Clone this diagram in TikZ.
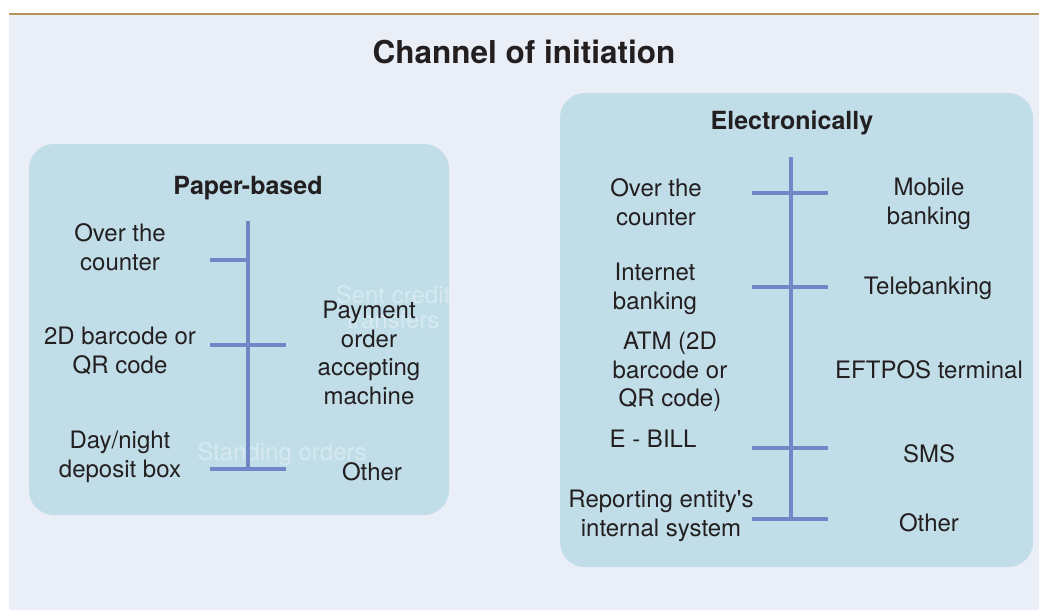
\documentclass[tikz,border=0pt]{standalone}
\usepackage{fontspec}
\setmainfont{TeX Gyre Heros}
\usepackage{tikz}
\usetikzlibrary{positioning}
\definecolor{chPanel}{HTML}{E9EEF7}
\definecolor{chBox}{HTML}{C0DDE8}
\definecolor{chSpine}{HTML}{7088C8}
\definecolor{chRule}{HTML}{B8935A}
\definecolor{chInk}{HTML}{231F20}

\begin{document}
\begin{tikzpicture}[
  x=1pt,y=-1pt,
  grp/.style={fill=chBox,rounded corners=25pt},
  hd/.style={font=\fontsize{25}{28}\selectfont\bfseries,text=chInk,inner sep=0pt},
  lbl/.style={font=\fontsize{24}{28.5}\selectfont,text=chInk,align=center,inner sep=0pt},
  ghost/.style={font=\fontsize{24}{25}\selectfont,text=white,text opacity=0.38,align=center,inner sep=0pt},
  tk/.style={draw=chSpine,line width=3.2pt}
]
\useasboundingbox (0,0) rectangle (1039,610);
\fill[chPanel] (9,14) rectangle (1039,610);
\draw[chRule,line width=2pt] (9,14) -- (1039,14);

\node[font=\fontsize{31.5}{34}\selectfont\bfseries,text=chInk,inner sep=0pt] (title) at (524,52) {Channel of initiation};

% paper-based group
\fill[grp] (29,144) rectangle (449,515);
\node[hd] (phd) at (248,188) {Paper-based};

\coordinate (ptop) at (248,221);
\coordinate (pbot) at (248,469);
\coordinate (p1l) at (210,260);
\coordinate (p1r) at (248,260);
\coordinate (p2l) at (210,345);
\coordinate (p2r) at (286,345);
\coordinate (p3l) at (210,469);
\coordinate (p3r) at (286,469);

\begin{scope}
  \clip[rounded corners=25pt] (29,144) rectangle (449,515);
  \node[ghost] (pgh1) at (393,307) {Sent credit\\transfers};
  \node[ghost] (pgh2) at (282,454) {Standing orders};
\end{scope}

\draw[tk] (ptop) -- (pbot);
\draw[tk] (p1l) -- (p1r);
\draw[tk] (p2l) -- (p2r);
\draw[tk] (p3l) -- (p3r);

\node[lbl] (pcnt) at (120,247) {Over the\\counter};
\node[lbl] (pqr)  at (120,351) {2D barcode or\\QR code};
\node[lbl] (pbox) at (120,457) {Day/night\\deposit box};
\node[lbl] (pmch) at (369,353) {Payment\\order\\accepting\\machine};
\node[lbl] (poth) at (372,472) {Other};

% electronic group
\fill[grp] (560,93) rectangle (1033,567);
\node[hd] (ehd) at (792,123) {Electronically};

\coordinate (etop) at (791,157);
\coordinate (ebot) at (791,519);
\coordinate (e1l) at (752,193);
\coordinate (e1r) at (828,193);
\coordinate (e2l) at (752,287);
\coordinate (e2r) at (828,287);
\coordinate (e3l) at (752,448);
\coordinate (e3r) at (828,448);
\coordinate (e4l) at (752,519);
\coordinate (e4r) at (828,519);

\draw[tk] (etop) -- (ebot);
\draw[tk] (e1l) -- (e1r);
\draw[tk] (e2l) -- (e2r);
\draw[tk] (e3l) -- (e3r);
\draw[tk] (e4l) -- (e4r);

\node[lbl] (ecnt) at (656,202) {Over the\\counter};
\node[lbl] (enet) at (655,289) {Internet\\banking};
\node[lbl] (eatm) at (670,372) {ATM (2D\\barcode or\\QR code)};
\node[lbl] (ebil) at (653,439) {E - BILL};
\node[lbl] (eint) at (661,516) {Reporting entity\textquotesingle s\\internal system};
\node[lbl] (emob) at (929,204) {Mobile\\banking};
\node[lbl] (etel) at (928,288) {Telebanking};
\node[lbl] (eeft) at (929,370) {EFTPOS terminal};
\node[lbl] (esms) at (929,454) {SMS};
\node[lbl] (eoth) at (929,523) {Other};
\end{tikzpicture}
\end{document}
